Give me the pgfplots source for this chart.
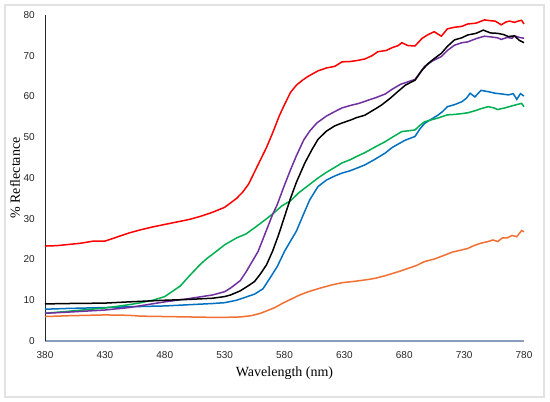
\documentclass[border=0pt]{standalone}
\usepackage{fontspec}
\setmainfont{Liberation Serif}
\setsansfont{Liberation Sans}
\usepackage{pgfplots}
\pgfplotsset{compat=1.18}
\usepackage{pgfplotstable}
\definecolor{cred}{RGB}{255,0,0}
\definecolor{cpurple}{RGB}{112,48,160}
\definecolor{cblue}{RGB}{0,112,192}
\definecolor{cgreen}{RGB}{0,176,80}
\definecolor{corange}{RGB}{241,112,50}
\definecolor{xaxisc}{RGB}{137,155,190}
\definecolor{framec}{RGB}{226,226,226}

\pgfplotstableread{
x y
380 23.3
390 23.4
400 23.7
410 24.0
420 24.5
430 24.5
440 25.5
450 26.5
460 27.3
470 28.0
480 28.6
490 29.2
500 29.8
510 30.6
520 31.6
530 32.8
540 35.0
545 36.5
550 38.5
555 41.5
560 44.5
565 47.5
570 51.0
576 55.5
580 58.0
585 61.0
590 62.8
595 64.0
600 65.0
608 66.3
615 67.0
622 67.4
628 68.5
635 68.6
640 68.8
647 69.2
653 70.0
658 71.0
665 71.3
670 72.0
675 72.5
678 73.2
683 72.5
689 72.4
695 74.3
700 75.2
705 75.9
711 74.8
716 76.6
722 77.0
728 77.2
733 77.8
740 78.0
747 78.8
752 78.6
756 78.5
761 77.6
765 78.3
768 78.5
772 78.2
775 78.5
778 78.7
780 77.8
}\red

\pgfplotstableread{
x y
380 9.1
400 9.2
430 9.3
450 9.6
480 10.0
500 10.2
520 10.5
530 10.9
535 11.3
543 12.3
550 13.6
555 14.6
560 16.5
565 18.7
570 22.0
575 26.0
580 30.5
585 35.0
590 39.0
597 43.7
603 47.0
608 49.5
615 51.5
622 52.8
628 53.5
635 54.2
640 54.8
647 55.4
655 56.8
661 57.9
668 59.5
675 61.3
681 62.8
689 64.0
695 66.5
700 68.1
705 69.3
711 70.6
716 72.3
722 73.9
728 74.4
733 75.1
740 75.5
746 76.3
752 75.6
758 75.5
763 75.2
767 74.7
772 74.9
776 73.8
780 73.2
}\black

\pgfplotstableread{
x y
380 6.8
400 7.1
430 7.6
450 8.2
480 9.6
500 10.4
520 11.3
530 12.1
535 13.0
543 14.8
548 17.0
553 19.5
558 22.0
562 25.0
566 28.0
570 31.0
574 33.5
579 37.5
585 42.0
590 45.5
596 49.3
601 51.5
607 53.5
615 55.2
622 56.3
628 57.2
635 57.8
642 58.3
650 59.1
657 59.8
664 60.6
670 61.8
677 63.0
683 63.6
689 64.2
693 65.8
697 67.4
704 68.8
711 69.8
716 71.3
722 72.6
728 73.2
733 73.4
740 74.2
747 74.8
753 74.6
758 74.4
761 74.0
766 74.5
770 74.3
772 74.9
776 74.5
780 74.3
}\purple

\pgfplotstableread{
x y
380 7.8
400 8.0
430 8.2
450 8.4
480 8.6
500 8.9
520 9.2
530 9.4
540 10.0
548 10.8
555 11.5
562 12.8
568 15.5
574 18.3
580 22.0
585 24.5
590 27.0
595 30.5
601 34.6
608 37.9
615 39.5
622 40.5
628 41.2
635 41.8
642 42.6
647 43.2
655 44.5
664 46.1
670 47.5
676 48.5
681 49.3
689 50.2
693 52.0
697 53.4
703 54.5
708 55.4
712 56.3
716 57.5
722 58.0
728 58.7
732 59.6
735 60.8
739 59.9
744 61.5
750 61.2
756 60.8
762 60.6
767 60.4
771 60.7
774 59.3
777 60.7
780 60.1
}\blue

\pgfplotstableread{
x y
380 6.8
400 7.3
430 8.1
450 8.9
460 9.4
470 10.0
480 10.9
487 12.3
493 13.5
500 15.8
509 18.6
515 20.2
520 21.3
530 23.6
540 25.3
548 26.3
556 28.0
565 30.0
571 31.4
578 33.2
585 34.4
592 36.4
600 38.2
608 40.0
615 41.4
622 42.6
628 43.7
635 44.5
641 45.4
647 46.2
655 47.5
664 48.9
670 50.0
678 51.4
684 51.6
689 51.8
693 52.9
697 53.8
703 54.3
708 54.7
716 55.5
722 55.6
728 55.8
733 56.0
739 56.5
744 57.0
750 57.5
755 57.2
758 56.8
764 57.2
770 57.7
775 58.1
778 58.3
780 57.5
}\green

\pgfplotstableread{
x y
380 6.0
400 6.2
430 6.4
450 6.3
460 6.1
480 6.0
500 5.9
520 5.8
530 5.8
543 5.9
552 6.2
560 6.8
566 7.5
572 8.2
578 9.2
585 10.2
592 11.2
600 12.1
610 13.0
620 13.8
628 14.3
640 14.7
650 15.1
656 15.4
665 16.1
675 17.0
683 17.8
690 18.5
697 19.5
705 20.1
714 21.1
720 21.8
733 22.7
738 23.4
744 24.0
750 24.4
754 24.8
758 24.4
762 25.3
766 25.3
770 25.9
774 25.6
778 27.1
780 26.8
}\orange

\begin{document}
\begin{tikzpicture}
\useasboundingbox (0pt,0pt) rectangle (550pt,402pt);
\fill[white] (0pt,0pt) rectangle (550pt,402pt);
\draw[framec, line width=1.5pt] (5pt,5pt) rectangle (544pt,397pt);
\begin{axis}[
  at={(45pt,61pt)}, anchor=south west,
  scale only axis, width=479pt, height=326pt,
  xmin=380, xmax=780, ymin=0, ymax=80,
  xtick={380,430,...,780}, ytick={0,10,...,80},
  axis lines*=left,
  major tick length=0pt,
  x axis line style={xaxisc, line width=1.2pt},
  y axis line style={black!85, line width=0.9pt},
  /pgf/number format/assume math mode=true,
  ticklabel style={font=\sffamily\fontsize{10}{12}\selectfont, text=black!85},
  xticklabel style={anchor=center, inner sep=0pt, yshift=-14pt},
  yticklabel style={anchor=east, inner sep=0pt, xshift=-10pt},
  every axis x label/.style={at={(axis description cs:0.5,-0.0982)}, anchor=center, font=\fontsize{14}{16}\selectfont},
  every axis y label/.style={at={(axis description cs:-0.0626,0.5)}, rotate=90, anchor=center, font=\fontsize{14}{16}\selectfont},
  xlabel={Wavelength (nm)},
  ylabel={\% Reflectance},
  clip=false,
]
\addplot[corange, line width=1.5pt] table {\orange};
\addplot[cblue, line width=1.5pt] table {\blue};
\addplot[cgreen, line width=1.5pt] table {\green};
\addplot[cpurple, line width=1.5pt] table {\purple};
\addplot[black, line width=1.5pt] table {\black};
\addplot[cred, line width=1.5pt] table {\red};
\end{axis}
\end{tikzpicture}
\end{document}
